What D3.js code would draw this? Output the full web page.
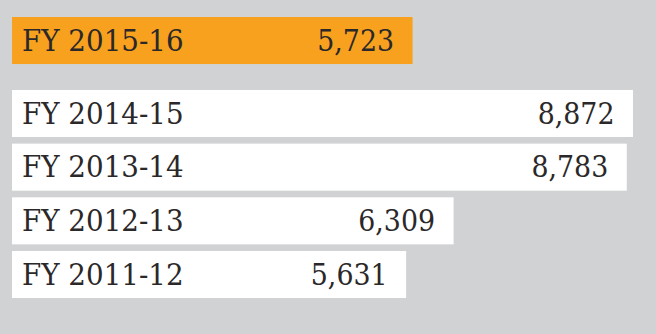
<!DOCTYPE html>
<html>
<head>
<meta charset="utf-8">
<script src="https://cdn.jsdelivr.net/npm/d3@7"></script>
<style>
  html, body { margin: 0; padding: 0; background: #d1d2d4; }
  svg { display: block; }
  text { font-family: "DejaVu Serif", serif; fill: #2b2829; }
</style>
</head>
<body>
<div id="chart"></div>
<script>
// data
const categories = ['FY 2015-16', 'FY 2014-15', 'FY 2013-14', 'FY 2012-13', 'FY 2011-12'];
const values = [5723, 8872, 8783, 6309, 5631];
const highlight = ['FY 2015-16'];

const width = 656;
const height = 334;
const fontSize = 29.5;

const svg = d3
  .select('#chart')
  .append('svg')
  .attr('width', width)
  .attr('height', height);

svg.append('rect').attr('width', width).attr('height', height).attr('fill', '#d1d2d4');

const x = d3.scaleLinear().domain([0, 8872]).range([12, 633]);

const y = d3
  .scaleBand()
  .domain(categories)
  .range([36.3, 298])
  .paddingInner(0.124)
  .paddingOuter(0);

// the current year sits a little higher than the rest
const rowY = d => y(d) - (highlight.includes(d) ? 19.3 : 0);

const data = categories.map((c, i) => ({ cat: c, value: values[i] }));

const row = svg
  .selectAll('.row')
  .data(data)
  .enter()
  .append('g')
  .classed('row', true)
  .attr('transform', d => `translate(0,${rowY(d.cat)})`);

row
  .append('rect')
  .attr('x', x(0))
  .attr('y', 0)
  .attr('width', d => x(d.value) - x(0))
  .attr('height', y.bandwidth())
  .attr('fill', d => (highlight.includes(d.cat) ? '#f7a11f' : '#ffffff'));

const baseline = y.bandwidth() / 2 + 10.3;

const labels = row
  .append('text')
  .attr('x', 22)
  .attr('y', baseline)
  .attr('font-size', fontSize)
  .attr('lengthAdjust', 'spacingAndGlyphs')
  .text(d => d.cat);

const nums = row
  .append('text')
  .attr('x', d => x(d.value) - 18.5)
  .attr('y', baseline)
  .attr('font-size', fontSize)
  .attr('text-anchor', 'end')
  .attr('lengthAdjust', 'spacingAndGlyphs')
  .text(d => d3.format(',')(d.value));

// the original face is narrower than DejaVu, squeeze to match
labels.each(function() {
  const w = this.getComputedTextLength();
  d3.select(this).attr('textLength', w * 0.94);
});
nums.each(function() {
  const w = this.getComputedTextLength();
  d3.select(this).attr('textLength', w * 0.91);
});
</script>
</body>
</html>
